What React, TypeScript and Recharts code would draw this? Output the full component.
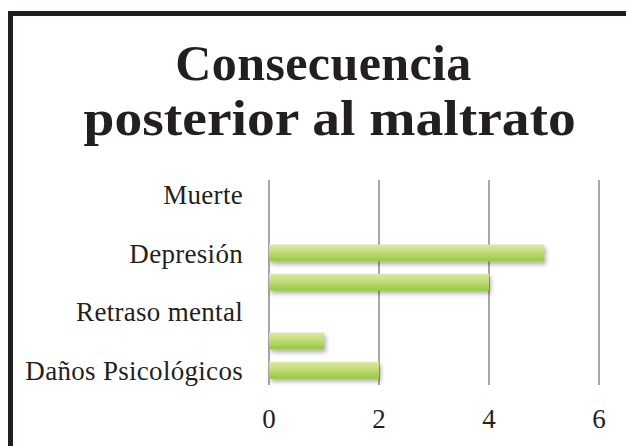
import React from "react";
import { BarChart, Bar, XAxis, YAxis, CartesianGrid } from "recharts";

const categories = [
  "Muerte",
  "Suicidio",
  "Depresión",
  "Baja autoestima",
  "Retraso mental",
  "Daños Físicos",
  "Daños Psicológicos",
];
const values = [0, 0, 5, 4, 0, 1, 2];
const xTicks = [0, 2, 4, 6];
const title = ["Consecuencia", "posterior al maltrato"];

const data = categories.map((name, i) => ({ name, value: values[i] }));

const FONT = "'Liberation Serif', 'Times New Roman', serif";
const TEXT = "#231f20";

export default function App() {
  return (
    <div style={{ position: "relative", width: 626, height: 446, overflow: "hidden", background: "#fff" }}>
      <style>{"body{margin:0;}"}</style>
      <div
        style={{
          position: "absolute",
          left: 8,
          top: 11,
          width: 700,
          height: 500,
          borderTop: "5px solid #231f20",
          borderLeft: "5px solid #231f20",
        }}
      />
      <div
        style={{
          position: "absolute",
          left: 17,
          top: 36,
          width: 613,
          textAlign: "center",
          fontFamily: FONT,
          fontWeight: "bold",
          fontSize: 50,
          lineHeight: "55px",
          color: TEXT,
        }}
      >
        <div style={{ letterSpacing: "0.4px" }}>{title[0]}</div>
        <div>
          <span style={{ display: "inline-block", transform: "translateX(6px) scaleX(1.11)" }}>{title[1]}</span>
        </div>
      </div>
      <div style={{ position: "absolute", left: 0, top: 0 }}>
        <BarChart
          width={626}
          height={446}
          data={data}
          layout="vertical"
          margin={{ top: 180, right: 27, bottom: 11, left: 13 }}
        >
          <defs>
            <linearGradient id="barGrad" x1="0" y1="0" x2="0" y2="1">
              <stop offset="0%" stopColor="#dceaa0" />
              <stop offset="45%" stopColor="#c0dd78" />
              <stop offset="100%" stopColor="#95c73e" />
            </linearGradient>
            <filter id="barShadow" x="-10%" y="-30%" width="120%" height="180%">
              <feDropShadow dx="2" dy="3" stdDeviation="2" floodColor="#000" floodOpacity="0.3" />
            </filter>
          </defs>
          <CartesianGrid horizontal={false} vertical={true} stroke="#8a8a8a" strokeWidth={1.5} />
          <XAxis
            type="number"
            domain={[0, 6]}
            ticks={xTicks}
            axisLine={false}
            tickLine={false}
            tickMargin={18}
            height={50}
            tick={{ fontFamily: FONT, fontSize: 27, fill: TEXT }}
          />
          <YAxis
            type="category"
            dataKey="name"
            width={256}
            axisLine={false}
            tickLine={false}
            tickMargin={20}
            interval={1}
            tick={{ fontFamily: FONT, fontSize: 27, fill: TEXT, letterSpacing: 0.3 }}
          />
          <Bar
            dataKey="value"
            barSize={17}
            fill="url(#barGrad)"
            filter="url(#barShadow)"
            isAnimationActive={false}
          />
        </BarChart>
      </div>
    </div>
  );
}
